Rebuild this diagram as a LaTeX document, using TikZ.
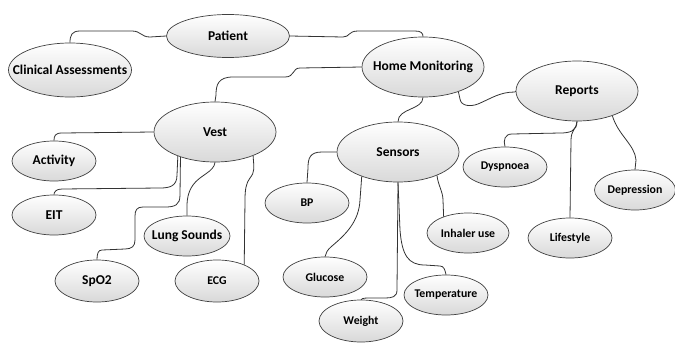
\documentclass[tikz,border=0pt]{standalone}
\usepackage{fontspec}
\setmainfont{Carlito}
\usetikzlibrary{shapes.geometric}
\newcommand{\lbl}[1]{\makebox[0pt]{#1}}
\begin{document}
\begin{tikzpicture}[x=1pt,y=-1pt,
  bub/.style={ellipse, draw=black!75, line width=0.7pt, top color=white, bottom color=black!15,
    inner sep=0pt, font=\bfseries\fontsize{13.5}{15}\selectfont},
  sbub/.style={bub, minimum width=84pt, minimum height=40pt, font=\bfseries\fontsize{11.8}{13}\selectfont},
  lbub/.style={bub, minimum width=122pt, minimum height=60pt},
  mbub/.style={bub, minimum width=84pt, minimum height=40pt},
  conn/.style={draw=black!80, line width=0.8pt}]
\useasboundingbox (0,0) rectangle (675,343);
% nodes
\node[bub, minimum width=123pt, minimum height=43pt] (patient) at (228,36) {\lbl{Patient}};
\node[bub, minimum width=123pt, minimum height=54pt] (clin) at (70,70) {\lbl{Clinical Assessments}};
\node[lbub] (hm) at (423,67) {\lbl{Home Monitoring}};
\node[lbub] (reports) at (577,91) {\lbl{Reports}};
\node[lbub] (sensors) at (398,152) {\lbl{Sensors}};
\node[lbub] (vest) at (215,132) {\lbl{Vest}};
\node[sbub] (dysp) at (505,167) {\lbl{Dyspnoea}};
\node[sbub, minimum width=81pt] (depr) at (635,190) {\lbl{Depression}};
\node[sbub] (life) at (570,238) {\lbl{Lifestyle}};
\node[sbub, minimum width=82pt] (inh) at (468,233) {\lbl{Inhaler use}};
\node[sbub] (bp) at (307,203) {\lbl{BP}};
\node[sbub] (gluc) at (325,277) {\lbl{Glucose}};
\node[sbub] (temp) at (446,295) {\lbl{Temperature}};
\node[sbub, minimum height=42pt] (weight) at (361,321) {\lbl{Weight}};
\node[mbub] (act) at (54,161) {\lbl{Activity}};
\node[mbub] (eit) at (54,215) {\lbl{EIT}};
\node[mbub, minimum width=86pt] (lung) at (187,236) {\lbl{Lung Sounds}};
\node[mbub, minimum height=42pt] (spo) at (97,281) {\lbl{SpO2}};
\node[sbub, minimum height=42pt] (ecg) at (217,281) {\lbl{ECG}};
% connectors
\draw[conn] (patient.west) -- (150,37) .. controls (141,37) and (141,31) .. (132,31) -- (80,31) .. controls (72,31) and (70,35) .. (clin.north);
\draw[conn] (patient.east) -- (343,37) .. controls (350,37) and (348,31) .. (358,31) -- (415,31) .. controls (421,31) and (423,33) .. (hm.north);
\draw[conn] (hm.west) -- (300,68) .. controls (292,68) and (295,77) .. (285,77) -- (233,77) .. controls (218,77) and (216,85) .. (216,95) -- (vest.north);
\draw[conn] (hm.south) .. controls (423,110) and (398,108) .. (sensors.north);
\draw[conn] (hm.-35) -- (460,99) .. controls (461,106) and (470,107) .. (478,104) .. controls (492,98) and (500,92) .. (515,92) -- (reports.west);
\draw[conn] (reports.south) .. controls (577,131) and (570,133) .. (560,133) -- (512,134) .. controls (505,134) and (503,140) .. (dysp.north);
\draw[conn] (reports.south) .. controls (577,128) and (571,130) .. (571,140) -- (life.north);
\draw[conn] (reports.-35) .. controls (618,135) and (635,145) .. (636,160) -- (depr.north);
\draw[conn] (sensors.west) -- (322,152) .. controls (310,152) and (308,158) .. (308,168) -- (bp.north);
\draw[conn] (sensors.214) -- (360,200) .. controls (359,222) and (345,235) .. (332,246) .. controls (327,250) and (326,253) .. (gluc.north);
\draw[conn] (sensors.south) -- (397,290) .. controls (397,297) and (392,298) .. (385,298) -- (368,298) .. controls (363,298) and (361,299) .. (weight.north);
\draw[conn] (sensors.south) -- (400,230) .. controls (402,255) and (408,265) .. (425,265) -- (440,266) .. controls (444,266) and (445,270) .. (temp.north);
\draw[conn] (sensors.-31) .. controls (438,185) and (443,192) .. (443,200) -- (inh.146);
\draw[conn] (vest.west) -- (62,133) .. controls (55,133) and (54,136) .. (act.north);
\draw[conn] (vest.213) -- (177,175) .. controls (177,186) and (170,188) .. (160,188) -- (62,189) .. controls (56,189) and (54,192) .. (eit.north);
\draw[conn] (vest.216) -- (180,195) .. controls (180,205) and (175,207) .. (165,207) -- (143,207) .. controls (137,207) and (135,210) .. (135,216) -- (135,240) .. controls (135,246) and (132,249) .. (125,249) -- (102,250) .. controls (98,250) and (97,254) .. (spo.north);
\draw[conn] (vest.south) .. controls (214,172) and (200,175) .. (193,185) .. controls (188,192) and (187,200) .. (187,205) -- (lung.north);
\draw[conn] (vest.-32) .. controls (254,168) and (255,172) .. (250,178) .. controls (246,183) and (245,190) .. (245,200) -- (ecg.31);
\end{tikzpicture}
\end{document}
